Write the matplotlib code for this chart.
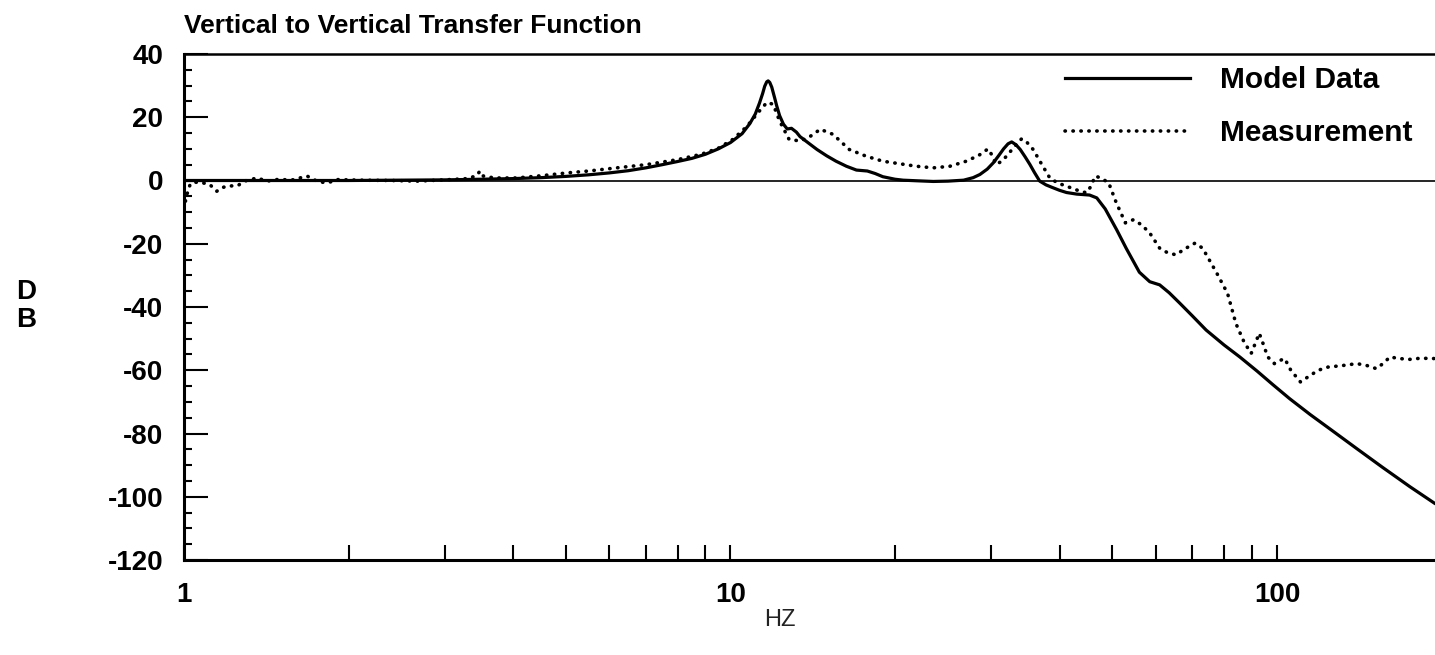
import matplotlib
matplotlib.use("Agg")
import matplotlib.pyplot as plt
from matplotlib.ticker import FixedLocator, LogLocator, MultipleLocator, NullFormatter
from matplotlib.lines import Line2D

plt.rcParams['font.family'] = ['Liberation Sans', 'DejaVu Sans']
plt.rcParams['axes.unicode_minus'] = False

# Model transfer function (Hz, dB)
model_freq = [1, 2, 3, 3.5, 4, 4.5, 5, 5.5, 6, 6.5, 7, 7.5, 8, 8.5, 9, 9.5, 10, 10.5,
              10.85, 11.1, 11.3, 11.45, 11.55, 11.65, 11.72, 11.8, 11.9, 12.05, 12.15,
              12.3, 12.5, 12.7, 12.93, 13.2, 13.4, 13.9, 14.4, 15.0, 15.6, 16.3, 17.0,
              17.8, 18.4, 19.0, 20.0, 20.7, 22, 23.5, 25, 26.7, 27.8, 28.6, 29.5, 30.3,
              31.0, 31.6, 32.2, 32.7, 33.3, 33.9, 34.6, 35.3, 36.0, 36.8, 37.8, 38.8,
              40, 41.2, 43, 45.4, 46.8, 48.5, 50.9, 53, 56.0, 58.5, 61.0, 63.5, 66.4,
              70, 74.2, 80, 85.5, 92, 98.2, 105.5, 115, 126, 140, 156, 175, 194]
model_db = [0, 0, 0.2, 0.4, 0.6, 0.9, 1.3, 1.8, 2.4, 3.1, 4.0, 5.0, 6.0, 7.0, 8.3, 10.0,
            12.0, 14.8, 18.0, 21.0, 24.5, 27.5, 29.8, 31.2, 31.5, 31.0, 29.5, 26.0, 23.6,
            20.5, 17.8, 16.3, 16.5, 15.3, 13.9, 11.8, 9.8, 7.8, 6.1, 4.5, 3.3, 3.0, 2.2,
            1.2, 0.4, 0.1, -0.1, -0.3, -0.2, 0.1, 0.9, 1.9, 3.6, 5.7, 8.0, 10.0, 11.6,
            12.2, 11.3, 9.8, 7.5, 5.1, 2.5, -0.2, -1.4, -2.2, -3.1, -3.8, -4.3, -4.6,
            -5.5, -9.0, -15.6, -21.5, -29.0, -32.0, -33.0, -35.5, -38.8, -42.8, -47.3,
            -52.0, -55.8, -60.3, -64.5, -69.0, -74.0, -79.0, -84.8, -90.7, -96.8, -102.0]

# Measured transfer function (Hz, dB)
meas_freq = [1.0, 1.01, 1.025, 1.04, 1.08, 1.115, 1.148, 1.17, 1.196, 1.255, 1.29, 1.36,
             1.42, 1.48, 1.58, 1.68, 1.72, 1.75, 1.8, 1.85, 1.9, 2.1, 2.4, 2.67, 3.0,
             3.3, 3.43, 3.48, 3.53, 3.7, 4.06, 4.5, 5.02, 5.5, 6.19, 7.0, 8.0, 8.84,
             9.5, 10.1, 10.7, 11.3, 11.66, 11.97, 12.3, 12.8, 13.4, 13.9, 14.6, 15.4,
             16.5, 17.7, 19.0, 21.9, 23.5, 25.2, 27.0, 28.5, 29.6, 30.1, 30.6, 31.3,
             32.0, 33.0, 34.1, 34.9, 35.8, 37.0, 38.4, 39.7, 41.2, 43.0, 44.8, 45.6,
             46.5, 47.6, 49.2, 50.8, 52.8, 54.6, 56.5, 58.5, 61.0, 63.0, 65.3, 68.0,
             70.8, 73.1, 77.6, 81.2, 84.1, 87.0, 89.7, 91.5, 92.8, 94.5, 96.2, 98.9,
             101, 103.3, 106, 110.4, 115.1, 119, 124, 132, 140, 146, 152, 156, 161,
             166, 174, 183, 194]
meas_db = [-9, -5, -1.5, -0.5, -0.7, -1.3, -3.4, -2.4, -1.8, -1.6, -0.2, 0.8, -0.2, 0.3,
           0.2, 1.4, 0.5, -0.2, -0.6, -0.5, 0.3, 0.1, 0.0, -0.2, 0.2, 0.6, 1.5, 3.0,
           1.4, 0.8, 0.8, 1.5, 2.4, 3.0, 4.0, 5.0, 6.6, 8.3, 10.2, 13.0, 17.0, 22.0,
           24.7, 24.1, 18.8, 13.0, 12.5, 13.6, 16.2, 14.6, 9.8, 7.7, 6.1, 4.5, 4.0,
           4.5, 6.1, 8.0, 10.0, 8.0, 5.1, 6.0, 7.7, 10.5, 13.2, 12.0, 9.8, 5.5, 0.8,
           -0.8, -1.8, -3.0, -3.9, -2.0, 1.4, 0.8, -0.7, -7.0, -13.4, -12.4, -14.0,
           -16.6, -21.4, -22.8, -23.5, -21.5, -19.8, -21.4, -29.3, -35.7, -45.2, -51.0,
           -54.7, -51.0, -48.3, -52.0, -55.8, -57.9, -57.0, -56.3, -60.0, -63.7, -61.6,
           -60.0, -59.0, -58.5, -57.9, -58.5, -59.5, -58.0, -55.8, -56.2, -56.6, -56.2,
           -56.3]

y_ticks = [-120, -100, -80, -60, -40, -20, 0, 20, 40]
x_ticks = [1, 10, 100]
x_tick_labels = ['1', '10', '100']
series_labels = ['Model Data', 'Measurement']

W, H = 1435, 655
fig = plt.figure(figsize=(W / 100, H / 100), dpi=100)
ax = fig.add_axes([184 / W, 1 - 560 / H, 1 - 184 / W, 506 / H])

dotted = (0, (0.1, 2.1))
ax.axhline(0, color='black', lw=1.2, zorder=1)
ax.plot(meas_freq, meas_db, color='black', lw=2.6, linestyle=dotted,
        dash_capstyle='round', zorder=2)
ax.plot(model_freq, model_db, color='black', lw=2.3, zorder=3,
        solid_joinstyle='round')

ax.set_xscale('log')
ax.set_xlim(1, 194.6)
ax.set_ylim(-120, 40)

ax.spines['right'].set_visible(False)
ax.spines['left'].set_linewidth(2.2)
ax.spines['bottom'].set_linewidth(2.2)
ax.spines['top'].set_linewidth(1.8)

ax.yaxis.set_major_locator(FixedLocator(y_ticks))
ax.yaxis.set_minor_locator(MultipleLocator(5))
ax.xaxis.set_major_locator(FixedLocator(x_ticks))
ax.set_xticklabels(x_tick_labels)
ax.xaxis.set_minor_locator(LogLocator(base=10, subs=range(2, 10)))
ax.xaxis.set_minor_formatter(NullFormatter())

ax.tick_params(axis='y', which='major', direction='in', length=17, width=1.5,
               pad=15, labelsize=20)
ax.tick_params(axis='y', which='minor', direction='in', length=6, width=1.5)
ax.tick_params(axis='x', which='both', direction='in', length=11, width=1.5)
ax.tick_params(axis='x', which='major', pad=16, labelsize=20)
for lab in ax.get_xticklabels() + ax.get_yticklabels():
    lab.set_fontweight('bold')

fig.text(184 / W, 1 - 33 / H, 'Vertical to Vertical Transfer Function',
         fontsize=19, fontweight='bold', ha='left', va='baseline')
fig.text(26 / W, 1 - 306 / H, 'D\nB', fontsize=20, fontweight='bold',
         ha='center', va='center', linespacing=1.08)
fig.text(780 / W, 1 - 620 / H, 'HZ', fontsize=17, color='#222222',
         family=['Liberation Sans Narrow', 'Liberation Sans'],
         ha='center', va='center')

handles = [Line2D([], [], color='black', lw=2.3),
           Line2D([], [], color='black', lw=2.6, linestyle=dotted,
                  dash_capstyle='round')]
ax.legend(handles, series_labels, loc='upper left',
          bbox_to_anchor=(1065 / W, 1 - 66 / H), bbox_transform=fig.transFigure,
          frameon=False, borderpad=0, borderaxespad=0, handlelength=4.2,
          handletextpad=1.0, labelspacing=0.85,
          prop={'size': 21.5, 'weight': 'bold'})

fig.savefig('out.png', dpi=100)
